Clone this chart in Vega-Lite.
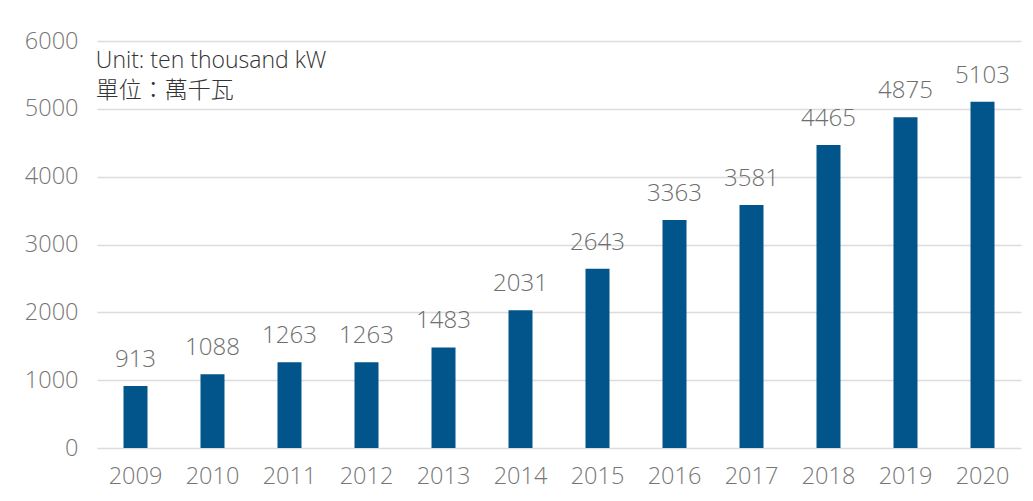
{
  "$schema": "https://vega.github.io/schema/vega-lite/v6.json",
  "width": 924,
  "height": 407,
  "autosize": "none",
  "padding": {"left": 97, "top": 41, "right": 12, "bottom": 53},
  "background": "white",
  "config": {
    "view": {"stroke": null},
    "font": "Open Sans",
    "axis": {"labelFont": "Open Sans", "labelFontWeight": 300, "labelColor": "#767676", "labelFontSize": 23.5, "domain": false, "ticks": false, "title": null}
  },
  "datasets": {
    "bars": [
      {"year": "2009", "value": 913},
      {"year": "2010", "value": 1088},
      {"year": "2011", "value": 1263},
      {"year": "2012", "value": 1263},
      {"year": "2013", "value": 1483},
      {"year": "2014", "value": 2031},
      {"year": "2015", "value": 2643},
      {"year": "2016", "value": 3363},
      {"year": "2017", "value": 3581},
      {"year": "2018", "value": 4465},
      {"year": "2019", "value": 4875},
      {"year": "2020", "value": 5103}
    ],
    "note": [
      {"year": "2009", "value": 5600, "label": ["Unit: ten thousand kW", "單位：萬千瓦"]}
    ]
  },
  "layer": [
    {
      "data": {"name": "bars"},
      "mark": {"type": "bar", "color": "#02558b", "size": 24},
      "encoding": {
        "x": {"field": "year", "type": "ordinal", "sort": null,
          "axis": {"labelAngle": 0, "labelPadding": 16, "grid": false}},
        "y": {"field": "value", "type": "quantitative",
          "scale": {"domain": [0, 6000]},
          "axis": {"values": [0, 1000, 2000, 3000, 4000, 5000, 6000], "format": "d", "labelPadding": 19, "grid": true, "gridColor": "#dcdcdc", "gridWidth": 1.5}}
      }
    },
    {
      "data": {"name": "bars"},
      "mark": {"type": "text", "baseline": "alphabetic", "dy": -19, "fontSize": 24, "fontWeight": 300, "color": "#6e6e6e", "font": "Open Sans"},
      "encoding": {
        "x": {"field": "year", "type": "ordinal", "sort": null},
        "y": {"field": "value", "type": "quantitative"},
        "text": {"field": "value", "type": "quantitative", "format": "d"}
      }
    },
    {
      "data": {"name": "note"},
      "mark": {"type": "text", "align": "left", "baseline": "alphabetic", "dx": -5, "fontSize": 23, "fontWeight": 300, "color": "#333333", "lineHeight": 30, "font": "Open Sans, Noto Sans CJK TC"},
      "encoding": {
        "x": {"field": "year", "type": "ordinal", "bandPosition": 0},
        "y": {"field": "value", "type": "quantitative"},
        "text": {"field": "label"}
      }
    }
  ]
}
